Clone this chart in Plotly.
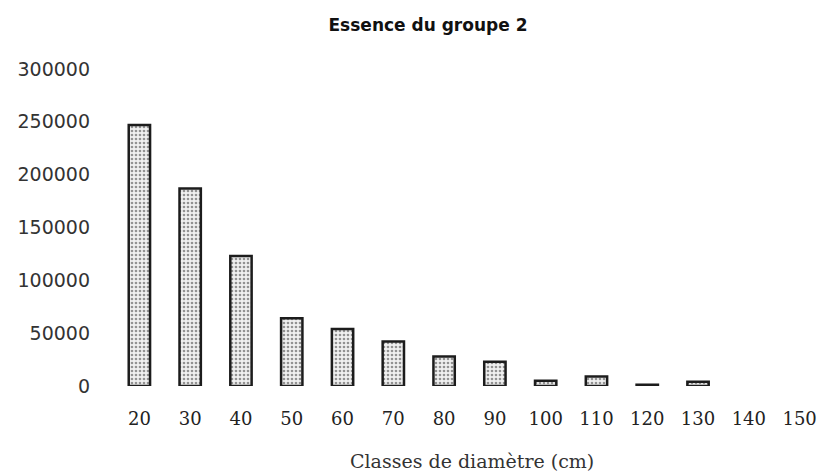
import plotly.graph_objects as go

categories = ["20", "30", "40", "50", "60", "70", "80", "90", "100", "110", "120", "130", "140", "150"]
values = [247000, 187000, 123000, 64000, 54000, 42000, 28000, 23000, 5000, 9000, 1200, 4000, 0, 0]
y_ticks = [0, 50000, 100000, 150000, 200000, 250000, 300000]
y_tick_labels = ["0", "50000", "100000", "150000", "200000", "250000", "300000"]

line_widths = [2.5 if v > 0 else 0 for v in values]

fig = go.Figure()
fig.add_trace(go.Bar(
    x=categories,
    y=values,
    marker=dict(
        color="#eeeeee",
        line=dict(color="#1c1c1c", width=line_widths),
        pattern=dict(shape=".", fgcolor="#333333", bgcolor="#f0f0f0", size=4, solidity=0.35),
    ),
    width=0.42,
    showlegend=False,
))

fig.update_layout(
    width=830, height=476,
    paper_bgcolor="white", plot_bgcolor="white",
    margin=dict(l=114, r=5, t=69, b=90),
    title=dict(text="<b>Essence du groupe 2</b>", x=428/830, xanchor="center",
               y=1 - 25/476, yanchor="middle", xref="container", yref="container",
               font=dict(family="DejaVu Sans", size=17, color="#111111")),
    xaxis=dict(type="category", showgrid=False, showline=False, zeroline=False, ticks="",
               tickfont=dict(family="DejaVu Serif", size=18, color="#222222"),
               ticklabelstandoff=20),
    yaxis=dict(range=[0, 300000], tickvals=y_ticks, ticktext=y_tick_labels,
               showgrid=False, showline=False, zeroline=False, ticks="",
               tickfont=dict(family="DejaVu Sans", size=19, color="#333333"),
               ticklabelstandoff=23),
    annotations=[dict(text="Classes de diamètre (cm)", xref="paper", yref="paper",
                      x=(472-114)/711, y=(386-461)/317, xanchor="center", yanchor="middle",
                      showarrow=False, font=dict(family="DejaVu Serif", size=19, color="#333333"))],
)

fig.write_html("out.html", config={"displayModeBar": False},
               post_script="document.body.style.margin='0';document.body.style.padding='0';")
